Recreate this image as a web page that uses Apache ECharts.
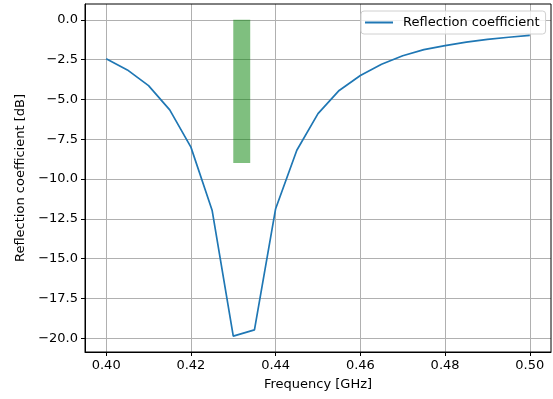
<!DOCTYPE html>
<html>
<head>
<meta charset="utf-8">
<script src="https://cdn.jsdelivr.net/npm/echarts@6/dist/echarts.min.js"></script>
<style>html,body{margin:0;padding:0;background:#fff;}#c{width:553px;height:399px;}</style>
</head>
<body>
<div id="c"></div>
<script>
const freq = [0.400,0.405,0.410,0.415,0.420,0.425,0.430,0.435,0.440,0.445,0.450,0.455,0.460,0.465,0.470,0.475,0.480,0.485,0.490,0.495,0.500];
const s11 = [-2.45,-3.15,-4.14,-5.66,-8.00,-11.96,-19.87,-19.48,-11.87,-8.20,-5.90,-4.44,-3.50,-2.80,-2.26,-1.88,-1.62,-1.40,-1.23,-1.10,-0.98];
const bandX = [0.430, 0.434];
const bandY = [0, -9];
const xTicks = [0.40,0.42,0.44,0.46,0.48,0.50];
const yTicks = [0,-2.5,-5,-7.5,-10,-12.5,-15,-17.5,-20];
const seriesName = 'Reflection coefficient';

const FONT = 'DejaVu Sans';
const FS = 13;
const chart = echarts.init(document.getElementById('c'), null, {renderer:'canvas'});
const fmtY = v => (v < 0 ? '\u2212' : '') + Math.abs(v).toFixed(1);
chart.setOption({
  animation:false,
  backgroundColor:'#fff',
  grid:{left:85,right:2,top:4,bottom:47,show:true,borderColor:'#000',borderWidth:1,backgroundColor:'transparent',z:10},
  xAxis:{type:'value',min:0.395,max:0.505,
    name:'Frequency [GHz]',nameLocation:'middle',nameGap:26,
    nameTextStyle:{fontFamily:FONT,fontSize:FS,color:'#000'},
    axisLine:{show:true,onZero:false,lineStyle:{color:'#000',width:1}},
    axisTick:{show:true,length:4,customValues:xTicks,lineStyle:{color:'#000'}},
    axisLabel:{customValues:xTicks,margin:7,fontFamily:FONT,fontSize:FS,color:'#000',formatter:v=>v.toFixed(2)},
    splitLine:{show:true,lineStyle:{color:'#b0b0b0',width:1}}
  },
  yAxis:{type:'value',min:-20.87,max:0.99,
    name:'Reflection coefficient [dB]',nameLocation:'middle',nameGap:51,
    nameTextStyle:{fontFamily:FONT,fontSize:FS,color:'#000'},
    axisLine:{show:true,onZero:false,lineStyle:{color:'#000',width:1}},
    axisTick:{show:true,length:4,customValues:yTicks,lineStyle:{color:'#000'}},
    axisLabel:{customValues:yTicks,margin:7,fontFamily:FONT,fontSize:FS,color:'#000',formatter:fmtY},
    splitLine:{show:true,lineStyle:{color:'#b0b0b0',width:1}}
  },
  legend:{show:true,left:361,top:11,
    data:[{name:seriesName,icon:'rect'}],
    itemWidth:28,itemHeight:2,
    padding:[5,6,5,4],
    backgroundColor:'rgba(255,255,255,0.8)',borderColor:'#d0d0d0',borderWidth:1,borderRadius:3,
    textStyle:{fontFamily:FONT,fontSize:FS,color:'#000',padding:[0,0,0,5]}
  },
  series:[
    {type:'custom',name:'band',silent:true,z:3,
      data:[[bandX[0],bandX[1],bandY[0],bandY[1]]],
      renderItem:(params,api)=>{
        const p0 = api.coord([api.value(0),api.value(2)]);
        const p1 = api.coord([api.value(1),api.value(3)]);
        return {type:'rect',shape:{x:p0[0],y:p0[1],width:p1[0]-p0[0],height:p1[1]-p0[1]},
          style:{fill:'rgba(0,128,0,0.5)'}};
      }
    },
    {type:'line',name:seriesName,data:freq.map((f,i)=>[f,s11[i]]),
      showSymbol:false,symbol:'none',z:4,
      lineStyle:{color:'#1f77b4',width:1.7},itemStyle:{color:'#1f77b4'}}
  ]
});
</script>
</body>
</html>
